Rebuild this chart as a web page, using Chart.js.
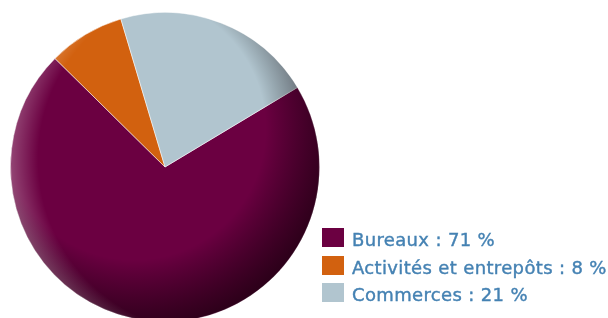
<!DOCTYPE html>
<html lang="fr">
<head>
<meta charset="utf-8">
<script src="https://cdn.jsdelivr.net/npm/chart.js@4"></script>
<style>
    html, body { margin: 0; padding: 0; background: #fff; overflow: hidden; }
    body { width: 608px; height: 318px; position: relative; }
    #boitePie { position: absolute; left: 0; top: 2px; width: 330px; height: 330px; }
    #legende { position: absolute; left: 322px; top: 224px; font-family: "DejaVu Sans", sans-serif; font-size: 18px; letter-spacing: 0.35px; -webkit-text-stroke: 0.4px #4582b3; color: #4582b3; }
    .ligne { display: flex; align-items: center; height: 27.5px; }
    .carre { width: 22px; height: 19px; margin-right: 8px; }
    .ligne span { position: relative; top: 2px; }
</style>
</head>
<body>
<div id="boitePie"><canvas id="graficoPie"></canvas></div>
<div id="legende"></div>
<script>
// données
const categories = ['Bureaux', 'Activités et entrepôts', 'Commerces'];
const pourcentages = [71, 8, 21];
const couleurs = ['#6b0041', '#d2610f', '#b1c5cf'];

// ombre / reflet du disque
const effetRelief = {
    id: 'effetRelief',
    afterDatasetsDraw(chart) {
        const arc = chart.getDatasetMeta(0).data[0];
        if (!arc) return;
        const { x, y, outerRadius: r } = arc.getProps(['x', 'y', 'outerRadius'], true);
        const ctx = chart.ctx;
        ctx.save();
        ctx.beginPath();
        ctx.arc(x, y, r, 0, Math.PI * 2);
        ctx.clip();
        const cx = x - 0.2 * r, cy = y - 0.25 * r;
        const ombre = ctx.createRadialGradient(cx, cy, 0.85 * r, cx, cy, 1.3 * r);
        ombre.addColorStop(0, 'rgba(0,0,0,0)');
        ombre.addColorStop(1, 'rgba(20,0,10,0.7)');
        ctx.fillStyle = ombre;
        ctx.fillRect(x - r, y - r, 2 * r, 2 * r);
        const reflet = ctx.createRadialGradient(x + 0.3 * r, y - 0.05 * r, 1.12 * r, x + 0.3 * r, y - 0.05 * r, 1.32 * r);
        reflet.addColorStop(0, 'rgba(255,255,255,0)');
        reflet.addColorStop(1, 'rgba(255,255,255,0.3)');
        ctx.fillStyle = reflet;
        ctx.fillRect(x - r, y - r, 2 * r, 2 * r);
        ctx.restore();
    }
};

const ctx = document.getElementById('graficoPie').getContext('2d');
const graficoPie = new Chart(ctx, {
    type: 'pie',
    data: {
        labels: categories,
        datasets: [{
            data: pourcentages,
            backgroundColor: couleurs,
            borderColor: 'rgba(255,255,255,0.5)',
            borderWidth: 1
        }]
    },
    options: {
        responsive: true,
        maintainAspectRatio: false,
        animation: false,
        rotation: 59,
        layout: { padding: 10 },
        plugins: {
            legend: { display: false },
            tooltip: { enabled: false }
        }
    },
    plugins: [effetRelief]
});

// légende en texte
const legende = document.getElementById('legende');
categories.forEach((nom, i) => {
    const ligne = document.createElement('div');
    ligne.className = 'ligne';
    const carre = document.createElement('div');
    carre.className = 'carre';
    carre.style.background = couleurs[i];
    const texte = document.createElement('span');
    texte.textContent = nom + ' : ' + pourcentages[i] + ' %';
    ligne.appendChild(carre);
    ligne.appendChild(texte);
    legende.appendChild(ligne);
});
</script>
</body>
</html>
